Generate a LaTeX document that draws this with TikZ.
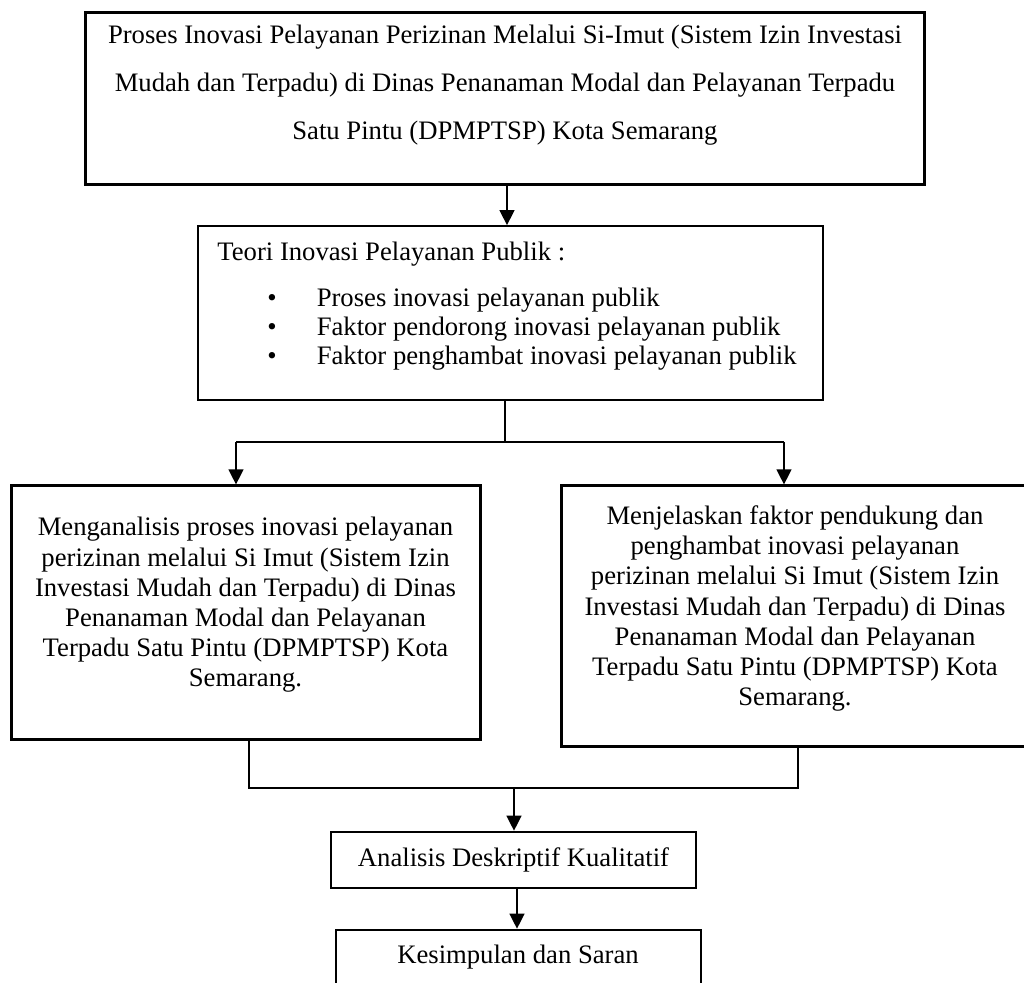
\documentclass[tikz,border=0pt]{standalone}
\usepackage{fontspec}
\setmainfont{Liberation Serif}
\usetikzlibrary{fit,arrows.meta,calc}
\begin{document}
\begin{tikzpicture}[x=0.45pt, y=-0.45pt,
  boxthick/.style={draw, line width=1.35pt, inner sep=0pt},
  boxthin/.style={draw, line width=0.7pt, inner sep=0pt},
  boxmid/.style={draw, line width=1.1pt, inner sep=0pt},
  txt/.style={inner sep=0pt, font=\fontsize{12pt}{13.6pt}\selectfont, align=center},
  conn/.style={line width=0.8pt},
  arr/.style={line width=1.1pt, -{Triangle[length=6.8pt, width=6.6pt]}},
]
\useasboundingbox (0,0) rectangle (1024,983);
\clip (0,0) rectangle (1024,983);

% boxes
\node[boxthick, fit={(85,13) (924,185)}] (top) {};
\node[boxthin, fit={(198,226) (823,400)}] (teori) {};
\node[boxthick, fit={(11,486) (480,740)}] (anl) {};
\node[boxthick, fit={(561,486) (1029,747)}] (menj) {};
\node[boxmid, fit={(331,832) (696,888)}] (desk) {};
\node[boxmid, fit={(336,930) (701,1000)}] (kes) {};

% texts
\node[txt, font=\fontsize{12pt}{21.6pt}\selectfont] (toptxt) at (505,85)
  {Proses Inovasi Pelayanan Perizinan Melalui Si-Imut (Sistem Izin Investasi\\
   Mudah dan Terpadu) di Dinas Penanaman Modal dan Pelayanan Terpadu\\
   Satu Pintu (DPMPTSP) Kota Semarang};
\node[txt, anchor=west] (teoritxt) at (217,254) {Teori Inovasi Pelayanan Publik :};
\node[txt, align=left, anchor=west, font=\fontsize{12pt}{13pt}\selectfont] (list) at (267,329)
  {\makebox[22.2pt][l]{\textbullet}Proses inovasi pelayanan publik\\
   \makebox[22.2pt][l]{\textbullet}Faktor pendorong inovasi pelayanan publik\\
   \makebox[22.2pt][l]{\textbullet}Faktor penghambat inovasi pelayanan publik};
\node[txt] (anltxt) at (245.5,605)
  {Menganalisis proses inovasi pelayanan\\
   perizinan melalui Si Imut (Sistem Izin\\
   Investasi Mudah dan Terpadu) di Dinas\\
   Penanaman Modal dan Pelayanan\\
   Terpadu Satu Pintu (DPMPTSP) Kota\\
   Semarang.};
\node[txt] (menjtxt) at (795,608.5)
  {Menjelaskan faktor pendukung dan\\
   penghambat inovasi pelayanan\\
   perizinan melalui Si Imut (Sistem Izin\\
   Investasi Mudah dan Terpadu) di Dinas\\
   Penanaman Modal dan Pelayanan\\
   Terpadu Satu Pintu (DPMPTSP) Kota\\
   Semarang.};
\node[txt] (desktxt) at (513.5,860) {Analisis Deskriptif Kualitatif};
\node[txt] (kestxt) at (518,957) {Kesimpulan dan Saran};

% connector coordinates
\coordinate (xa) at (507,0);
\coordinate (xb) at (505,0);
\coordinate (j1) at (505,442);
\coordinate (jl) at (236,442);
\coordinate (jr) at (784,442);
\coordinate (kl) at (249,788);
\coordinate (kr) at (798,788);
\coordinate (km) at (514,788);
\coordinate (xc) at (517,0);

% connectors
\draw[arr] (top.south -| xa) -- (teori.north -| xa);
\draw[conn] (teori.south -| xb) -- (j1);
\draw[conn] (jl) -- (jr);
\draw[arr] (jl) -- (jl |- anl.north);
\draw[arr] (jr) -- (jr |- menj.north);
\draw[conn] (anl.south -| kl) -- (kl) -- (kr) -- (menj.south -| kr);
\draw[arr] (km) -- (km |- desk.north);
\draw[arr] (desk.south -| xc) -- (kes.north -| xc);
\end{tikzpicture}
\end{document}
